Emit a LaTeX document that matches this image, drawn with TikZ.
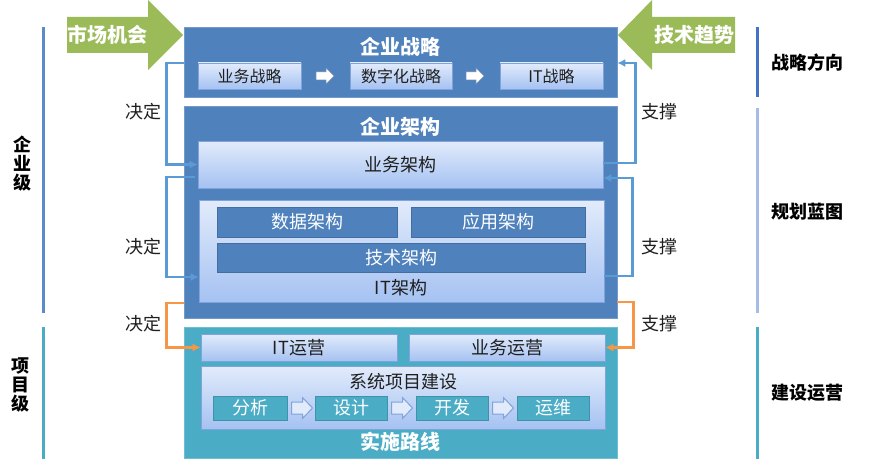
\documentclass[tikz,border=0pt]{standalone}
\usepackage{fontspec}
\setmainfont{Noto Sans CJK SC}
\usetikzlibrary{calc,shadows,arrows.meta}
\definecolor{pblue}{HTML}{4F81BD}
\definecolor{pteal}{HTML}{4BACC6}
\definecolor{gtop}{HTML}{E2EBFB}
\definecolor{gbot}{HTML}{A5C2F2}
\definecolor{gedge}{HTML}{7FA3DA}
\definecolor{lgreen}{HTML}{9BBB59}
\definecolor{lline}{HTML}{5B9BD5}
\definecolor{lorange}{HTML}{F79646}
\definecolor{barblue}{HTML}{5B8BC9}
\definecolor{bardark}{HTML}{4472C4}
\definecolor{barlight}{HTML}{A4BCE6}
\definecolor{txt}{HTML}{1F1F1F}
\tikzset{
  panel/.style={fill=#1, draw=#1!80!white, line width=0.6pt, inner sep=0},
  gbox/.style={top color=gtop, bottom color=gbot, draw=gedge, line width=0.6pt, inner sep=0,
     drop shadow={shadow xshift=1.2pt, shadow yshift=-1.2pt, opacity=0.35}, text=txt},
  dbox/.style={fill=#1, draw=#1!85!black, line width=0.4pt, inner sep=0, text=white,
     drop shadow={shadow xshift=1.2pt, shadow yshift=-1.2pt, opacity=0.3}},
  ttl/.style={text=white, font=\bfseries\fontsize{20}{22}\selectfont},
  t18/.style={font=\fontsize{18}{20}\selectfont},
  t16/.style={font=\fontsize{16}{18}\selectfont},
  lab/.style={text=txt, font=\fontsize{18}{20}\selectfont},
  sidelab/.style={text=black, font=\bfseries\fontsize{18}{19}\selectfont, align=center},
  conn/.style={draw=lline, line width=2.5pt, -{Latex[length=8pt,width=8pt]}, line join=miter},
  oconn/.style={draw=lorange, line width=2.5pt, -{Latex[length=8pt,width=8pt]}, line join=miter},
  smallarrow/.pic={\draw[pic actions] (-9,-4) -- (1,-4) -- (1,-8) -- (9,0) -- (1,8) -- (1,4) -- (-9,4) -- cycle;},
  bigarrow/.pic={\draw[pic actions] (-10,-6) -- (1,-6) -- (1,-10.5) -- (11,0) -- (1,10.5) -- (1,6) -- (-10,6) -- cycle;},
}
\begin{document}
\begin{tikzpicture}[x=1pt,y=-1pt]
\useasboundingbox (0,0) rectangle (885,468);
% side bars
\draw[barblue, line width=3pt] (43,27) -- (43,313);
\draw[pteal, line width=3pt] (43,327) -- (43,459);
\draw[bardark, line width=3pt] (757,27) -- (757,97);
\draw[barlight, line width=3pt] (757,108) -- (757,313);
\draw[pteal, line width=3pt] (757,327) -- (757,459);
\node[sidelab] (lv1) at (22,164) {企\\业\\级};
\node[sidelab] (lv2) at (21,385) {项\\目\\级};
\node[sidelab, anchor=west] (r1) at (768,63) {战略方向};
\node[sidelab, anchor=west] (r2) at (768,212) {规划蓝图};
\node[sidelab, anchor=west] (r3) at (768,393) {建设运营};
% green arrows
\fill[lgreen] (67,17) -- (148,17) -- (148,0) -- (183,35) -- (148,70) -- (148,53) -- (67,53) -- cycle;
\node[ttl] (mkt) at (107,35) {市场机会};
\fill[lgreen] (735,17) -- (652,17) -- (652,0) -- (618,35) -- (652,70) -- (652,53) -- (735,53) -- cycle;
\node[ttl] (tech) at (694,35) {技术趋势};
% panels
\node[panel=pblue, minimum width=433pt, minimum height=70pt] (strat) at (400.5,62) {};
\node[panel=pblue, minimum width=433pt, minimum height=212pt] (ea) at (400.5,212) {};
\node[panel=pteal, minimum width=433pt, minimum height=131pt] (impl) at (400.5,392.5) {};
\node[ttl] (stratT) at (400.5,47) {企业战略};
\node[ttl] (eaT) at (400.5,127) {企业架构};
\node[ttl] (implT) at (400.5,442) {实施路线};
% strategy row
\node[gbox, t16, minimum width=103pt, minimum height=26pt] (s1) at (249.5,76) {业务战略};
\node[gbox, t16, minimum width=102pt, minimum height=26pt] (s2) at (401,76) {数字化战略};
\node[gbox, t16, minimum width=103pt, minimum height=26pt] (s3) at (551.5,76) {IT战略};
\pic[fill=white, draw=gedge!60!gray, line width=0.5pt] (a1) at (325,76) {smallarrow};
\pic[fill=white, draw=gedge!60!gray, line width=0.5pt] (a2) at (475,76) {smallarrow};
% architecture
\node[gbox, t18, minimum width=405pt, minimum height=47pt] (ba) at (400.5,164.5) {业务架构};
\node[gbox, minimum width=405pt, minimum height=102pt] (itb) at (401.5,251) {};
\node[dbox=pblue, t18, minimum width=180pt, minimum height=30pt] (da) at (307,222) {数据架构};
\node[dbox=pblue, t18, minimum width=174pt, minimum height=30pt] (aa) at (498,222) {应用架构};
\node[dbox=pblue, t18, minimum width=368pt, minimum height=29pt] (ta) at (401,257.5) {技术架构};
\node[t18, text=txt] (itT) at (401,288) {IT架构};
% implementation
\node[gbox, t18, minimum width=196pt, minimum height=27pt] (itops) at (299,347.5) {IT运营};
\node[gbox, t18, minimum width=196pt, minimum height=27pt] (bizops) at (507,347.5) {业务运营};
\node[gbox, minimum width=404pt, minimum height=63pt] (sys) at (403,397.5) {};
\node[t18, text=txt] (sysT) at (403,382) {系统项目建设};
\node[dbox=pteal, t18, minimum width=74pt, minimum height=24pt] (p1) at (250,408) {分析};
\node[dbox=pteal, t18, minimum width=72pt, minimum height=24pt] (p2) at (351,408) {设计};
\node[dbox=pteal, t18, minimum width=72pt, minimum height=24pt] (p3) at (452,408) {开发};
\node[dbox=pteal, t18, minimum width=72pt, minimum height=24pt] (p4) at (553,408) {运维};
\pic[fill=gtop, draw=gedge, line width=1pt] (h1) at (301.5,408) {bigarrow};
\pic[fill=gtop, draw=gedge, line width=1pt] (h2) at (401.5,408) {bigarrow};
\pic[fill=gtop, draw=gedge, line width=1pt] (h3) at (502.5,408) {bigarrow};
% connectors left
\draw[conn] ($(strat.west)+(0,1)$) -- ++(-17,0) |- (ba.west);
\draw[conn] ($(ba.west)+(-3,12.5)$) -- ++(-28,0) |- ($(itb.west)+(0,26)$);
\draw[oconn] ($(ea.west)+(0,91)$) -- ++(-17,0) |- (itops.west);
\node[lab] (d1) at (143,112) {决定};
\node[lab] (d2) at (143,247) {决定};
\node[lab] (d3) at (143,324) {决定};
% connectors right
\draw[conn] ($(ba.east)+(0,-1.5)$) -- ++(32,0) |- ($(strat.east)+(0,1)$);
\draw[conn] ($(itb.east)+(0,25)$) -- ++(28,0) |- ($(ba.east)+(0,13.5)$);
\draw[oconn] ($(ea.east)+(0,90)$) -- ++(16,0) |- (bizops.east);
\node[lab] (u1) at (659,112) {支撑};
\node[lab] (u2) at (659,247) {支撑};
\node[lab] (u3) at (659,324) {支撑};
\end{tikzpicture}
\end{document}
